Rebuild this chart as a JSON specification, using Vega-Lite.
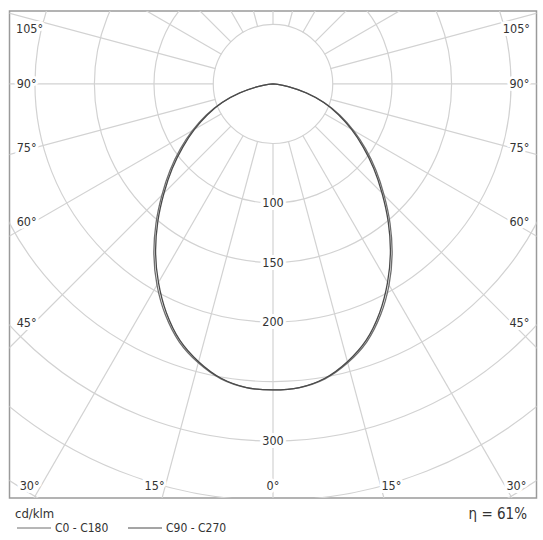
{
  "$schema": "https://vega.github.io/schema/vega-lite/v6.json",
  "width": 527,
  "height": 487,
  "autosize": {"type": "none"},
  "padding": {"left": 9.5, "top": 11, "right": 6.5, "bottom": 42},
  "background": "white",
  "config": {
    "view": {"stroke": "#9a9a9a", "strokeWidth": 1.5},
    "font": "DejaVu Sans Condensed, DejaVu Sans, sans-serif"
  },
  "datasets": {
    "circles": [{"r": 50}, {"r": 100}, {"r": 150}, {"r": 200}, {"r": 250}, {"r": 300}, {"r": 350}, {"r": 400}],
    "rays": [{"a": 0}, {"a": 15}, {"a": 30}, {"a": 45}, {"a": 60}, {"a": 75}, {"a": 90}, {"a": 105}, {"a": 120}, {"a": 135}, {"a": 150}, {"a": 165}, {"a": 180}, {"a": 195}, {"a": 210}, {"a": 225}, {"a": 240}, {"a": 255}, {"a": 270}, {"a": 285}, {"a": 300}, {"a": 315}, {"a": 330}, {"a": 345}],
    "curves": [
      {"s": "C0 - C180", "a": -90, "v": 0}, {"s": "C0 - C180", "a": -85, "v": 4}, {"s": "C0 - C180", "a": -80, "v": 13}, {"s": "C0 - C180", "a": -75, "v": 29}, {"s": "C0 - C180", "a": -70, "v": 46}, {"s": "C0 - C180", "a": -65, "v": 62}, {"s": "C0 - C180", "a": -60, "v": 78}, {"s": "C0 - C180", "a": -55, "v": 95}, {"s": "C0 - C180", "a": -50, "v": 113}, {"s": "C0 - C180", "a": -45, "v": 132}, {"s": "C0 - C180", "a": -40, "v": 153}, {"s": "C0 - C180", "a": -35, "v": 174.5}, {"s": "C0 - C180", "a": -30, "v": 195}, {"s": "C0 - C180", "a": -25, "v": 214}, {"s": "C0 - C180", "a": -20, "v": 230.5}, {"s": "C0 - C180", "a": -15, "v": 242.5}, {"s": "C0 - C180", "a": -10, "v": 251.5}, {"s": "C0 - C180", "a": -5, "v": 256}, {"s": "C0 - C180", "a": 0, "v": 257},
      {"s": "C0 - C180", "a": 5, "v": 256}, {"s": "C0 - C180", "a": 10, "v": 251.5}, {"s": "C0 - C180", "a": 15, "v": 242.5}, {"s": "C0 - C180", "a": 20, "v": 230.5}, {"s": "C0 - C180", "a": 25, "v": 214}, {"s": "C0 - C180", "a": 30, "v": 195}, {"s": "C0 - C180", "a": 35, "v": 174.5}, {"s": "C0 - C180", "a": 40, "v": 153}, {"s": "C0 - C180", "a": 45, "v": 132}, {"s": "C0 - C180", "a": 50, "v": 113}, {"s": "C0 - C180", "a": 55, "v": 95}, {"s": "C0 - C180", "a": 60, "v": 78}, {"s": "C0 - C180", "a": 65, "v": 62}, {"s": "C0 - C180", "a": 70, "v": 46}, {"s": "C0 - C180", "a": 75, "v": 29}, {"s": "C0 - C180", "a": 80, "v": 13}, {"s": "C0 - C180", "a": 85, "v": 4}, {"s": "C0 - C180", "a": 90, "v": 0},
      {"s": "C90 - C270", "a": -90, "v": 0}, {"s": "C90 - C270", "a": -85, "v": 4}, {"s": "C90 - C270", "a": -80, "v": 13}, {"s": "C90 - C270", "a": -75, "v": 28.5}, {"s": "C90 - C270", "a": -70, "v": 45}, {"s": "C90 - C270", "a": -65, "v": 60.5}, {"s": "C90 - C270", "a": -60, "v": 76}, {"s": "C90 - C270", "a": -55, "v": 92.5}, {"s": "C90 - C270", "a": -50, "v": 110.5}, {"s": "C90 - C270", "a": -45, "v": 129.5}, {"s": "C90 - C270", "a": -40, "v": 150.5}, {"s": "C90 - C270", "a": -35, "v": 172}, {"s": "C90 - C270", "a": -30, "v": 192.5}, {"s": "C90 - C270", "a": -25, "v": 212}, {"s": "C90 - C270", "a": -20, "v": 229}, {"s": "C90 - C270", "a": -15, "v": 241.5}, {"s": "C90 - C270", "a": -10, "v": 251}, {"s": "C90 - C270", "a": -5, "v": 256}, {"s": "C90 - C270", "a": 0, "v": 257},
      {"s": "C90 - C270", "a": 5, "v": 256}, {"s": "C90 - C270", "a": 10, "v": 251}, {"s": "C90 - C270", "a": 15, "v": 241.5}, {"s": "C90 - C270", "a": 20, "v": 229}, {"s": "C90 - C270", "a": 25, "v": 212}, {"s": "C90 - C270", "a": 30, "v": 192.5}, {"s": "C90 - C270", "a": 35, "v": 172}, {"s": "C90 - C270", "a": 40, "v": 150.5}, {"s": "C90 - C270", "a": 45, "v": 129.5}, {"s": "C90 - C270", "a": 50, "v": 110.5}, {"s": "C90 - C270", "a": 55, "v": 92.5}, {"s": "C90 - C270", "a": 60, "v": 76}, {"s": "C90 - C270", "a": 65, "v": 60.5}, {"s": "C90 - C270", "a": 70, "v": 45}, {"s": "C90 - C270", "a": 75, "v": 28.5}, {"s": "C90 - C270", "a": 80, "v": 13}, {"s": "C90 - C270", "a": 85, "v": 4}, {"s": "C90 - C270", "a": 90, "v": 0}
    ],
    "radialLabels": [{"t": "100", "x": 0, "y": -100}, {"t": "150", "x": 0, "y": -150}, {"t": "200", "x": 0, "y": -200}, {"t": "300", "x": 0, "y": -300}],
    "angleLabels": [
      {"t": "105°", "x": -204.5, "y": 46.5}, {"t": "105°", "x": 204.5, "y": 46.5},
      {"t": "90°", "x": -207, "y": 0.2}, {"t": "90°", "x": 207, "y": 0.2},
      {"t": "75°", "x": -207, "y": -54}, {"t": "75°", "x": 207, "y": -54},
      {"t": "60°", "x": -207, "y": -116.2}, {"t": "60°", "x": 207, "y": -116.2},
      {"t": "45°", "x": -207, "y": -201}, {"t": "45°", "x": 207, "y": -201},
      {"t": "30°", "x": -204.5, "y": -337.6}, {"t": "30°", "x": 204.5, "y": -337.6},
      {"t": "15°", "x": -99.5, "y": -337.6}, {"t": "15°", "x": 99.5, "y": -337.6},
      {"t": "0°", "x": 0, "y": -337.6}
    ],
    "efficiency": [{"t": "η = 61%"}]
  },
  "layer": [
    {
      "data": {"name": "circles"},
      "mark": {"type": "arc", "theta": 0, "theta2": 6.2832, "filled": false, "stroke": "#d2d2d2", "strokeWidth": 1.2, "clip": true},
      "encoding": {
        "x": {"datum": 0, "type": "quantitative", "scale": {"domain": [-221.4, 221.4], "nice": false, "zero": false}, "axis": null},
        "y": {"datum": 0, "type": "quantitative", "scale": {"domain": [-347.8, 61.3], "nice": false, "zero": false}, "axis": null},
        "radius": {"field": "r", "type": "quantitative", "stack": null, "scale": {"type": "linear", "domain": [0, 400], "range": [0, 476.1], "zero": true, "nice": false}}
      }
    },
    {
      "data": {"name": "rays"},
      "transform": [
        {"calculate": "50*sin(datum.a*PI/180)", "as": "x1"},
        {"calculate": "-50*cos(datum.a*PI/180)", "as": "y1"},
        {"calculate": "700*sin(datum.a*PI/180)", "as": "x2"},
        {"calculate": "-700*cos(datum.a*PI/180)", "as": "y2"}
      ],
      "mark": {"type": "rule", "stroke": "#d2d2d2", "strokeWidth": 1.2, "clip": true},
      "encoding": {
        "x": {"field": "x1", "type": "quantitative", "scale": {"domain": [-221.4, 221.4], "nice": false, "zero": false}, "axis": null},
        "y": {"field": "y1", "type": "quantitative", "scale": {"domain": [-347.8, 61.3], "nice": false, "zero": false}, "axis": null},
        "x2": {"field": "x2"},
        "y2": {"field": "y2"}
      }
    },
    {
      "data": {"name": "curves"},
      "transform": [
        {"calculate": "datum.v*sin(datum.a*PI/180)", "as": "px"},
        {"calculate": "-datum.v*cos(datum.a*PI/180)", "as": "py"}
      ],
      "mark": {"type": "line", "strokeWidth": 1.3, "interpolate": "catmull-rom", "clip": true},
      "encoding": {
        "x": {"field": "px", "type": "quantitative", "scale": {"domain": [-221.4, 221.4], "nice": false, "zero": false}, "axis": null},
        "y": {"field": "py", "type": "quantitative", "scale": {"domain": [-347.8, 61.3], "nice": false, "zero": false}, "axis": null},
        "order": {"field": "a", "type": "quantitative"},
        "stroke": {
          "field": "s",
          "type": "nominal",
          "scale": {"domain": ["C0 - C180", "C90 - C270"], "range": ["#6e6e6e", "#4a4a4a"]},
          "legend": {
            "orient": "none",
            "legendX": 5.5,
            "legendY": 497,
            "direction": "horizontal",
            "title": "cd/klm",
            "titleFont": "DejaVu Sans Condensed, DejaVu Sans, sans-serif",
            "titleFontSize": 13,
            "titleFontWeight": "normal",
            "titleColor": "#333333",
            "titlePadding": 1,
            "labelFont": "DejaVu Sans Condensed, DejaVu Sans, sans-serif",
            "labelFontSize": 12,
            "labelColor": "#333333",
            "labelOffset": 28,
            "symbolType": "M-1,0H7.5",
            "symbolSize": 64,
            "symbolStrokeWidth": 1,
            "columnPadding": 17,
            "padding": 0
          }
        }
      }
    },
    {
      "data": {"name": "radialLabels"},
      "mark": {"type": "text", "fontSize": 12.5, "stroke": "white", "strokeWidth": 6, "fill": "white", "align": "center", "baseline": "middle"},
      "encoding": {
        "x": {"field": "x", "type": "quantitative", "scale": {"domain": [-221.4, 221.4], "nice": false, "zero": false}, "axis": null},
        "y": {"field": "y", "type": "quantitative", "scale": {"domain": [-347.8, 61.3], "nice": false, "zero": false}, "axis": null},
        "text": {"field": "t"}
      }
    },
    {
      "data": {"name": "radialLabels"},
      "mark": {"type": "text", "fontSize": 12.5, "fill": "#333333", "align": "center", "baseline": "middle"},
      "encoding": {
        "x": {"field": "x", "type": "quantitative", "scale": {"domain": [-221.4, 221.4], "nice": false, "zero": false}, "axis": null},
        "y": {"field": "y", "type": "quantitative", "scale": {"domain": [-347.8, 61.3], "nice": false, "zero": false}, "axis": null},
        "text": {"field": "t"}
      }
    },
    {
      "data": {"name": "angleLabels"},
      "mark": {"type": "text", "fontSize": 12.5, "stroke": "white", "strokeWidth": 6, "fill": "white", "align": "center", "baseline": "middle"},
      "encoding": {
        "x": {"field": "x", "type": "quantitative", "scale": {"domain": [-221.4, 221.4], "nice": false, "zero": false}, "axis": null},
        "y": {"field": "y", "type": "quantitative", "scale": {"domain": [-347.8, 61.3], "nice": false, "zero": false}, "axis": null},
        "text": {"field": "t"}
      }
    },
    {
      "data": {"name": "angleLabels"},
      "mark": {"type": "text", "fontSize": 12.5, "fill": "#333333", "align": "center", "baseline": "middle"},
      "encoding": {
        "x": {"field": "x", "type": "quantitative", "scale": {"domain": [-221.4, 221.4], "nice": false, "zero": false}, "axis": null},
        "y": {"field": "y", "type": "quantitative", "scale": {"domain": [-347.8, 61.3], "nice": false, "zero": false}, "axis": null},
        "text": {"field": "t"}
      }
    },
    {
      "data": {"name": "efficiency"},
      "mark": {"type": "text", "fontSize": 15, "fill": "#333333", "align": "right", "baseline": "middle", "clip": false},
      "encoding": {
        "x": {"datum": 213.4, "type": "quantitative", "scale": {"domain": [-221.4, 221.4], "nice": false, "zero": false}, "axis": null},
        "y": {"datum": -361.3, "type": "quantitative", "scale": {"domain": [-347.8, 61.3], "nice": false, "zero": false}, "axis": null},
        "text": {"field": "t"}
      }
    }
  ]
}
